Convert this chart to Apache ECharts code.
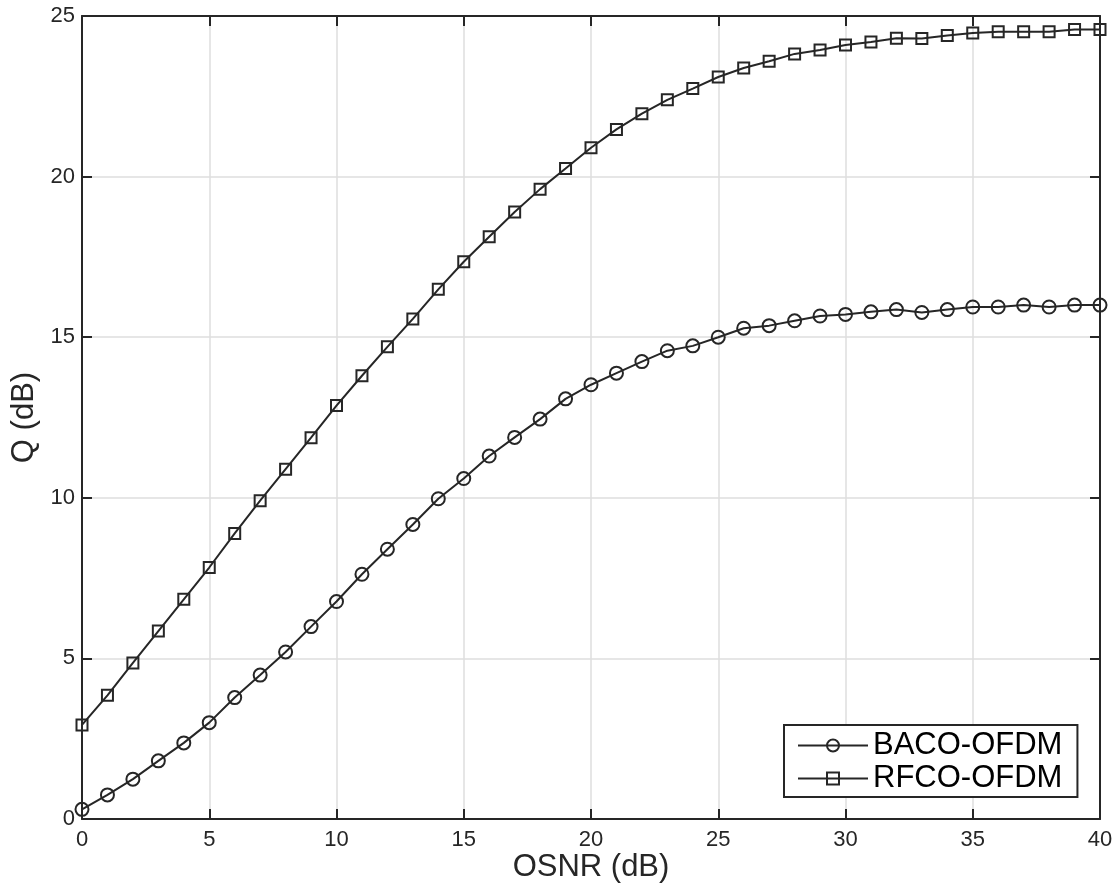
<!DOCTYPE html>
<html>
<head>
<meta charset="utf-8">
<script src="https://cdn.jsdelivr.net/npm/echarts@6/dist/echarts.min.js"></script>
<style>
  html, body { margin: 0; padding: 0; background: #fff; }
  #chart { width: 1120px; height: 888px; }
</style>
</head>
<body>
<div id="chart"></div>
<script>
// OSNR (dB) values on the x axis
const osnr = [0, 1, 2, 3, 4, 5, 6, 7, 8, 9, 10, 11, 12, 13, 14, 15, 16, 17, 18, 19, 20,
              21, 22, 23, 24, 25, 26, 27, 28, 29, 30, 31, 32, 33, 34, 35, 36, 37, 38, 39, 40];

// Q (dB)
const baco = [0.30, 0.75, 1.24, 1.81, 2.37, 3.00, 3.78, 4.48, 5.20, 5.99, 6.77,
              7.62, 8.40, 9.17, 9.97, 10.60, 11.30, 11.88, 12.45, 13.08, 13.52,
              13.88, 14.24, 14.58, 14.73, 15.00, 15.28, 15.36, 15.51, 15.66, 15.71,
              15.79, 15.86, 15.77, 15.86, 15.94, 15.94, 16.00, 15.94, 16.00, 16.00];
const rfco = [2.93, 3.85, 4.86, 5.85, 6.84, 7.83, 8.89, 9.91, 10.89, 11.87, 12.87,
              13.80, 14.70, 15.57, 16.49, 17.35, 18.13, 18.90, 19.61, 20.25, 20.90,
              21.47, 21.96, 22.39, 22.74, 23.10, 23.38, 23.59, 23.82, 23.94, 24.10,
              24.19, 24.31, 24.30, 24.39, 24.47, 24.51, 24.51, 24.51, 24.58, 24.58];

const seriesNames = ["BACO-OFDM", "RFCO-OFDM"];

const ink = "#262626";
const font = "'Liberation Sans', Arial, Helvetica, sans-serif";

const chart = echarts.init(document.getElementById("chart"), null, { renderer: "canvas" });

function pairs(ys) {
    return osnr.map((x, i) => [x, ys[i]]);
}

const tickStyle = { show: true, inside: true, length: 10, lineStyle: { color: ink, width: 2 } };
const lineAxis = { show: true, onZero: false, lineStyle: { color: ink, width: 2 } };

chart.setOption({
    animation: false,
    backgroundColor: "#fff",
    textStyle: { fontFamily: font },
    grid: { left: 82, right: 20, top: 16, bottom: 69, containLabel: false, outerBoundsMode: "none" },
    legend: {
        left: 784,
        top: 725,
        orient: "vertical",
        backgroundColor: "#fff",
        borderColor: ink,
        borderWidth: 2,
        borderRadius: 0,
        padding: [5, 15, 3, 13],
        itemWidth: 70,
        itemHeight: 15,
        itemGap: 2,
        textStyle: { fontFamily: font, fontSize: 31, color: "#000", lineHeight: 30 },
        data: seriesNames
    },
    xAxis: [{
        type: "value",
        min: 0, max: 40, interval: 5,
        name: "OSNR (dB)",
        nameLocation: "middle",
        nameGap: 33,
        nameMoveOverlap: false,
        nameTextStyle: { fontFamily: font, fontSize: 31, color: ink },
        axisLine: lineAxis,
        axisTick: tickStyle,
        axisLabel: { fontFamily: font, fontSize: 22, color: ink, margin: 10 },
        splitLine: { show: true, lineStyle: { color: "#dedede", width: 1.5 } }
    }, {
        type: "value",
        position: "top",
        min: 0, max: 40, interval: 5,
        axisLine: lineAxis,
        axisTick: tickStyle,
        axisLabel: { show: false },
        splitLine: { show: false }
    }],
    yAxis: [{
        type: "value",
        min: 0, max: 25, interval: 5,
        name: "Q (dB)",
        nameLocation: "middle",
        nameGap: 42,
        nameMoveOverlap: false,
        nameTextStyle: { fontFamily: font, fontSize: 31, color: ink },
        axisLine: lineAxis,
        axisTick: tickStyle,
        axisLabel: { fontFamily: font, fontSize: 22, color: ink, margin: 7 },
        splitLine: { show: true, lineStyle: { color: "#dedede", width: 1.5 } }
    }, {
        type: "value",
        position: "right",
        min: 0, max: 25, interval: 5,
        axisLine: lineAxis,
        axisTick: tickStyle,
        axisLabel: { show: false },
        splitLine: { show: false }
    }],
    series: [{
        name: seriesNames[0],
        type: "line",
        data: pairs(baco),
        symbol: "circle",
        symbolSize: 13,
        showAllSymbol: true,
        color: ink,
        lineStyle: { color: ink, width: 2 },
        itemStyle: { color: "rgba(255,255,255,0)", borderColor: ink, borderWidth: 2 },
        emphasis: { disabled: true },
        z: 3
    }, {
        name: seriesNames[1],
        type: "line",
        data: pairs(rfco),
        symbol: "rect",
        symbolSize: 11,
        showAllSymbol: true,
        color: ink,
        lineStyle: { color: ink, width: 2 },
        itemStyle: { color: "rgba(255,255,255,0)", borderColor: ink, borderWidth: 2 },
        emphasis: { disabled: true },
        z: 3
    }]
});
</script>
</body>
</html>
